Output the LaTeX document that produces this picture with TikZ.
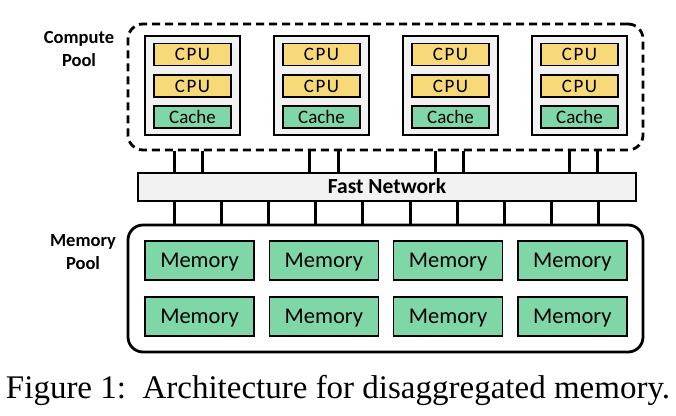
\documentclass[tikz,border=0pt]{standalone}
\usepackage{fontspec}
\setmainfont{Liberation Serif}
\newfontfamily\calib{Carlito}
\newfontfamily\calibcpu[LetterSpace=8]{Carlito}
\definecolor{cpuyellow}{HTML}{F7D97A}
\definecolor{memgreen}{HTML}{7FD6A6}
\definecolor{boxgray}{HTML}{F2F2F2}
\begin{document}
\begin{tikzpicture}[x=1pt,y=-1pt,
  poolbox/.style={draw,line width=2.8pt,rounded corners=15pt},
  nodebox/.style={draw,line width=1.4pt,fill=boxgray,minimum width=95pt,minimum height=99pt,inner sep=0pt},
  cpubox/.style={draw,line width=1.4pt,fill=cpuyellow,minimum width=77pt,minimum height=22pt,inner sep=0pt,text height=12pt,text depth=0pt,font=\calibcpu\fontsize{19}{20}\selectfont},
  cachebox/.style={cpubox,fill=memgreen,font=\calib\fontsize{19}{20}\selectfont},
  membox/.style={draw,line width=1.4pt,fill=memgreen,minimum width=109pt,minimum height=39pt,inner sep=0pt,text height=14.2pt,text depth=0pt,font=\calib\fontsize{22.5}{24}\selectfont},
  netbox/.style={draw,line width=2.4pt,fill=boxgray,minimum width=498pt,minimum height=28pt,inner sep=0pt,text height=13.5pt,text depth=0pt,font=\calib\bfseries\fontsize{21.5}{24}\selectfont},
  poollabel/.style={align=center,font=\calib\bfseries\fontsize{18.5}{23}\selectfont},
  link/.style={line width=3pt}]
\useasboundingbox (0,0) rectangle (676,415);
% pools
\node[poolbox,dashed,dash pattern=on 8pt off 5pt,minimum width=515pt,minimum height=126pt,inner sep=0pt] (cpool) at (385.5,87) {};
\node[poolbox,minimum width=515pt,minimum height=127pt,inner sep=0pt] (mpool) at (385.5,288.5) {};
\node[poollabel] (cplabel) at (79,49.5) {Compute\\Pool};
\node[poollabel] (mplabel) at (83,252) {Memory\\Pool};
% compute nodes
\foreach \i in {0,1,2,3}{
  \pgfmathsetmacro{\cx}{192.5+129*\i}
  \node[nodebox] (cn\i) at (\cx,85.5) {};
  \node[cpubox] (cpua\i) at (\cx,54.5) {CPU};
  \node[cpubox] (cpub\i) at (\cx,86) {CPU};
  \node[cachebox] (cache\i) at (\cx,117) {Cache};
}
% network
\node[netbox] (net) at (387,187) {Fast Network};
% upper links
\foreach \x [count=\k] in {174,202,309,338,435,463,569,597}{
  \coordinate (up\k) at (\x,0);
  \draw[link] (up\k |- cpool.south) -- (up\k |- net.north);
}
% lower links
\foreach \k in {0,...,9}{
  \pgfmathsetmacro{\lx}{174+47.2*\k}
  \coordinate (dn\k) at (\lx,0);
  \draw[link] (dn\k |- net.south) -- (dn\k |- mpool.north);
}
% memory modules
\foreach \j in {0,1,2,3}{
  \pgfmathsetmacro{\mx}{199.5+124.3*\j}
  \node[membox] (mema\j) at (\mx,260.5) {Memory};
  \node[membox] (memb\j) at (\mx,316.5) {Memory};
}
% caption
\node[anchor=base,inner sep=0pt,font=\fontsize{33}{36}\selectfont] (cap) at (338,398) {Figure 1:\ \ Architecture for disaggregated memory.};
\end{tikzpicture}
\end{document}
